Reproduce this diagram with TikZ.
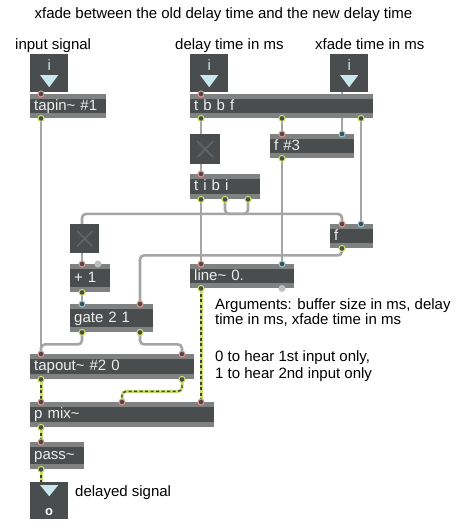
\documentclass[tikz,border=0pt]{standalone}
\usepackage{fontspec}
\setmainfont{Liberation Sans}
\usetikzlibrary{positioning,backgrounds,calc}

\definecolor{boxdark}{RGB}{74,77,77}
\definecolor{boxband}{RGB}{128,129,129}
\definecolor{boxtext}{RGB}{238,238,238}
\definecolor{inpink}{RGB}{232,150,140}
\definecolor{incyan}{RGB}{140,205,225}
\definecolor{outgreen}{RGB}{205,225,95}
\definecolor{cordgray}{RGB}{165,165,165}
\definecolor{sigcord}{RGB}{200,225,110}
\definecolor{tricyan}{RGB}{200,232,238}
\definecolor{xgray}{RGB}{98,101,101}
\definecolor{idlegray}{RGB}{190,190,190}

\newcommand*{\maxfont}{\fontsize{15}{18}\selectfont}
\newcommand*{\tld}{\textasciitilde}

\tikzset{
  cmt/.style={inner sep=0pt, text=black},
  obj/.style={fill=boxdark, text=boxtext, anchor=north west, inner xsep=4pt,
    inner ysep=0pt, minimum height=24pt, text height=11pt, text depth=3pt,
    align=left,
    path picture={
      \fill[boxband] (path picture bounding box.north west) rectangle
        ([yshift=-5pt]path picture bounding box.north east);
      \fill[boxband] (path picture bounding box.south west) rectangle
        ([yshift=5pt]path picture bounding box.south east);}},
  darksq/.style={fill=boxdark, anchor=north west, inner sep=0pt},
  numbox/.style={darksq, minimum size=38pt,
    path picture={\fill[tricyan]
      ([xshift=-9pt,yshift=-21pt]path picture bounding box.north)
      -- ++(18pt,0) -- ++(-9pt,-12pt) -- cycle;}},
  dacbox/.style={darksq, minimum width=38pt, minimum height=37pt,
    path picture={\fill[tricyan]
      ([xshift=-9pt,yshift=-3pt]path picture bounding box.north)
      -- ++(18pt,0) -- ++(-9pt,-11pt) -- cycle;}},
  tgl/.style={darksq, minimum size=30pt,
    path picture={\draw[xgray, line width=1.6pt]
      ([shift={(7pt,-7pt)}]path picture bounding box.north west)
      -- ([shift={(-7pt,7pt)}]path picture bounding box.south east)
      ([shift={(-7pt,-7pt)}]path picture bounding box.north east)
      -- ([shift={(7pt,7pt)}]path picture bounding box.south west);}},
  numtext/.style={text=tricyan, inner sep=0pt},
  dactext/.style={text=white, inner sep=0pt, font=\fontsize{13}{15}\selectfont\bfseries},
  cord/.style={draw=cordgray, line width=2.6pt, rounded corners=4pt},
  sig/.style={draw=sigcord, line width=3pt, rounded corners=4pt,
    postaction={draw=black!75, line width=1.4pt, dash pattern=on 3pt off 2.5pt}},
  inring/.style={fill=boxdark, draw=inpink, line width=1pt},
  outring/.style={fill=boxdark, draw=outgreen, line width=1pt},
  idle/.style={fill=idlegray}
}

\begin{document}
\begin{tikzpicture}[x=1pt,y=-1pt,font=\maxfont]
\useasboundingbox (0,0) rectangle (457,532);
% Comments
\node[cmt, anchor=base] (title) at (223.5,19)
  {xfade between the old delay time and the new delay time};
\node[cmt, anchor=base west] (lblin) at (15,49.5) {input signal};
\node[cmt, anchor=base west] (lbldelay) at (175,49.5) {delay time in ms};
\node[cmt, anchor=base west] (lblxfade) at (315,49.5) {xfade time in ms};
\node[cmt, anchor=north west, align=left, font=\fontsize{15}{15}\selectfont]
  (cmtargs) at (215,298.5)
  {Arguments: buffer size in ms, delay\\time in ms, xfade time in ms};
\node[cmt, anchor=north west, align=left, font=\fontsize{15}{17.3}\selectfont]
  (cmtgate) at (215,350.5)
  {0 to hear 1st input only,\\1 to hear 2nd input only};
\node[cmt, anchor=base west] (lblout) at (75,496) {delayed signal};
% Number boxes
\node[numbox] (nin) at (30,54) {};
\node[numbox] (ndelay) at (190,54) {};
\node[numbox] (nxfade) at (330,54) {};
\foreach \n in {nin,ndelay,nxfade}
  \node[numtext] (\n-txt) at ($(\n.north)+(0,11.5)$) {i};
% Objects
\node[obj, text width=68pt] (tapin) at (30,94) {tapin\tld{} \#1};
\node[obj, text width=175pt] (tbbf) at (190,94) {t b b f};
\node[tgl] (tog1) at (190,134) {};
\node[obj, text width=76pt] (fthree) at (270,134) {f \#3};
\node[obj, text width=62pt, minimum height=25pt] (tibi) at (190,174) {t i b i};
\node[obj, text width=35pt] (fxf) at (330,224) {f};
\node[tgl, minimum size=29pt] (tog2) at (70,224) {};
\node[obj, text width=32pt, minimum height=28pt] (plus) at (70,264) {+ 1};
\node[obj, text width=75pt, minimum height=28pt] (gate) at (70,304) {gate 2 1};
\node[obj, text width=96pt] (line) at (190,264) {line\tld{} 0.};
\node[obj, text width=156pt, minimum height=25pt] (tapout) at (30,354)
  {tapout\tld{} \#2 0};
\node[obj, text width=176pt, minimum height=25pt] (pmix) at (30,402) {p mix\tld{}};
\node[obj, text width=46pt, minimum height=27pt] (pass) at (30,442) {pass\tld{}};
\node[dacbox] (dac) at (30,482) {};
\node[dactext] (dac-txt) at ($(dac.north)+(0,30)$) {o};
% Inlets and outlets
\foreach \n/\k/\px in {tapin/1/41, tbbf/1/201, fthree/1/282, fthree/2/342,
    tibi/1/201, fxf/1/342, fxf/2/361, plus/1/82, gate/1/82, gate/2/140,
    line/1/201, line/2/282, tapout/1/41, tapout/2/182, pmix/1/41,
    pmix/2/122, pmix/3/201, pass/1/41, tog1/1/201, tog2/1/82, dac/1/41}
  \coordinate (\n-i\k) at (\px,0 |- \n.north);
\foreach \n/\k/\px in {nin/1/41, ndelay/1/201, nxfade/1/342, tapin/1/41,
    tbbf/1/201, tbbf/2/282, tbbf/3/361, tog1/1/201, fthree/1/282, tibi/1/201,
    tibi/2/225, tibi/3/248, fxf/1/342, tog2/1/82, plus/1/82, gate/1/82,
    gate/2/140, line/1/201, tapout/1/41, tapout/2/182, pmix/1/41, pass/1/41}
  \coordinate (\n-o\k) at (\px,0 |- \n.south);
% Patch cords
\begin{scope}[on background layer]
\fill[white] (0,0) rectangle (457,532);
\draw[cord] (nin-o1) -- (tapin-i1);
\draw[cord] (ndelay-o1) -- (tbbf-i1);
\draw[cord] (nxfade-o1) -- (fthree-i2);
\draw[cord] (tapin-o1) -- (tapout-i1);
\draw[cord] (tbbf-o1) -- (tog1-i1);
\draw[cord] (tbbf-o2) -- (fthree-i1);
\draw[cord] (tbbf-o3) -- (fxf-i2);
\draw[cord] (tog1-o1) -- (tibi-i1);
\draw[cord] (fthree-o1) -- (line-i2);
\draw[cord] (tibi-o1) -- (line-i1);
\draw[cord] (tibi-o2) -- ++(0,14.5) -| (fxf-i1);
\draw[cord] (tibi-o3) -- ++(0,14.5) -| (tog2-i1);
\draw[cord] (fxf-o1) -- ++(0,7) -| (gate-i2);
\draw[cord] (tog2-o1) -- (plus-i1);
\draw[cord] (plus-o1) -- (gate-i1);
\draw[cord] (gate-o1) -- ++(0,12) -| (tapout-i1);
\draw[cord] (gate-o2) -- ++(0,12) -| (tapout-i2);
% Signal cords
\draw[sig] (line-o1) -- (pmix-i3);
\draw[sig] (tapout-o1) -- (pmix-i1);
\draw[sig] (tapout-o2) -- ++(0,12) -| (pmix-i2);
\draw[sig] (pmix-o1) -- (pass-i1);
\draw[sig] (pass-o1) -- (dac-i1);
\end{scope}
% Port rings
\foreach \p in {tapin-i1, tbbf-i1, fthree-i1, tibi-i1, fxf-i1, plus-i1,
    gate-i2, line-i1, tapout-i1, tapout-i2, pmix-i1, pmix-i2, pmix-i3, pass-i1}
  \draw[inring] (\p) circle (3pt);
\foreach \p in {fthree-i2, fxf-i2, gate-i1, line-i2}
  \draw[inring, draw=incyan] (\p) circle (3pt);
\foreach \p in {tapin-o1, tbbf-o1, tbbf-o2, tbbf-o3, fthree-o1, tibi-o1,
    tibi-o2, tibi-o3, fxf-o1, plus-o1, gate-o1, gate-o2, line-o1, tapout-o1,
    tapout-o2, pmix-o1, pass-o1}
  \draw[outring] (\p) circle (3pt);
% Unused ports
\fill[idle] (98,0 |- plus.north) circle (3.5pt);
\fill[idle] (282,0 |- line.south) circle (3.5pt);
\end{tikzpicture}
\end{document}
